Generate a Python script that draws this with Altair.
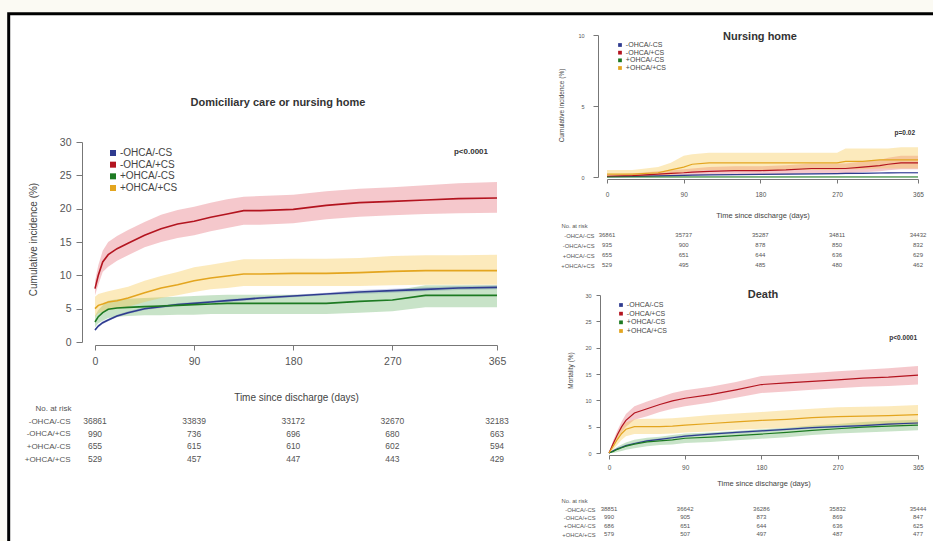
import altair as alt
import pandas as pd

FONT = "Liberation Sans"
SERIES = ["-OHCA/-CS", "-OHCA/+CS", "+OHCA/-CS", "+OHCA/+CS"]
LINE_COLORS = ["#2f3b8f", "#b3141f", "#1d7a22", "#e3a51f"]
BAND_COLORS = ["#6f80c8", "#e2606c", "#62b060", "#f6c23e"]
DAY_TICKS = [0, 90, 180, 270, 365]

# ---- Domiciliary care or nursing home (cumulative incidence, %) ----
DOM_DAYS = [0, 3, 7, 12, 20, 30, 45, 60, 75, 90, 105, 120, 135, 150, 180, 210, 240, 270, 300, 330, 365]
DOM_EST_NN = [1.8, 2.4, 2.9, 3.3, 3.9, 4.4, 5.0, 5.3, 5.6, 5.8, 6.0, 6.2, 6.4, 6.6, 6.9, 7.2, 7.5, 7.7, 7.9, 8.1, 8.2]
DOM_LO_NN = [1.6, 2.2, 2.7, 3.1, 3.7, 4.2, 4.8, 5.1, 5.4, 5.6, 5.8, 6.0, 6.2, 6.4, 6.7, 7.0, 7.2, 7.4, 7.6, 7.8, 7.9]
DOM_HI_NN = [2.0, 2.6, 3.1, 3.5, 4.1, 4.6, 5.2, 5.5, 5.8, 6.0, 6.2, 6.4, 6.6, 6.8, 7.1, 7.4, 7.8, 8.0, 8.2, 8.4, 8.5]
DOM_EST_NP = [8.0, 10.0, 12.0, 13.1, 14.0, 14.8, 16.0, 17.0, 17.7, 18.1, 18.7, 19.2, 19.7, 19.7, 19.9, 20.5, 20.9, 21.1, 21.3, 21.5, 21.6]
DOM_LO_NP = [7.0, 8.6, 10.5, 11.3, 12.2, 13.0, 14.2, 15.0, 15.6, 16.0, 16.6, 17.1, 17.6, 17.6, 17.8, 18.4, 18.8, 19.0, 19.2, 19.3, 19.4]
DOM_HI_NP = [9.1, 11.5, 13.7, 15.0, 15.9, 16.8, 18.0, 19.1, 19.8, 20.3, 20.9, 21.4, 21.8, 21.9, 22.1, 22.6, 23.0, 23.2, 23.5, 23.8, 24.0]
DOM_EST_PN = [3.0, 3.8, 4.4, 4.9, 5.1, 5.2, 5.3, 5.4, 5.5, 5.6, 5.7, 5.8, 5.8, 5.8, 5.8, 5.8, 6.1, 6.3, 7.0, 7.0, 7.0]
DOM_LO_PN = [2.2, 2.8, 3.2, 3.6, 3.8, 3.9, 4.0, 4.0, 4.1, 4.1, 4.2, 4.2, 4.2, 4.2, 4.2, 4.2, 4.4, 4.6, 5.2, 5.2, 5.2]
DOM_HI_PN = [3.9, 4.8, 5.5, 6.2, 6.4, 6.5, 6.6, 6.7, 6.8, 6.9, 7.0, 7.1, 7.1, 7.1, 7.1, 7.1, 7.5, 7.7, 8.5, 8.5, 8.5]
DOM_EST_PP = [5.0, 5.5, 5.7, 6.0, 6.2, 6.6, 7.4, 8.1, 8.6, 9.2, 9.6, 9.9, 10.2, 10.2, 10.3, 10.3, 10.4, 10.6, 10.7, 10.7, 10.7]
DOM_LO_PP = [3.8, 4.3, 4.5, 4.8, 5.0, 5.3, 6.0, 6.6, 7.0, 7.5, 7.9, 8.1, 8.4, 8.4, 8.4, 8.4, 8.4, 8.5, 8.6, 8.6, 8.6]
DOM_HI_PP = [6.8, 7.2, 7.4, 7.6, 7.9, 8.3, 9.2, 9.9, 10.5, 11.2, 11.6, 12.0, 12.4, 12.4, 12.5, 12.5, 12.6, 12.9, 13.0, 13.0, 13.1]
DOM_RISK_NN = [36861, 33839, 33172, 32670, 32183]
DOM_RISK_NP = [990, 736, 696, 680, 663]
DOM_RISK_PN = [655, 615, 610, 602, 594]
DOM_RISK_PP = [529, 457, 447, 443, 429]

# ---- Nursing home (cumulative incidence, %) ----
NH_DAYS = [0, 30, 60, 75, 90, 100, 120, 150, 180, 210, 240, 270, 280, 300, 320, 330, 345, 365]
NH_EST_NN = [0.02, 0.05, 0.08, 0.1, 0.12, 0.13, 0.15, 0.17, 0.19, 0.2, 0.22, 0.24, 0.25, 0.26, 0.28, 0.29, 0.3, 0.3]
NH_LO_NN = [0.0, 0.02, 0.05, 0.07, 0.09, 0.1, 0.12, 0.14, 0.15, 0.16, 0.18, 0.2, 0.2, 0.21, 0.23, 0.24, 0.25, 0.25]
NH_HI_NN = [0.05, 0.08, 0.11, 0.13, 0.15, 0.16, 0.18, 0.2, 0.23, 0.24, 0.26, 0.28, 0.3, 0.31, 0.33, 0.34, 0.35, 0.35]
NH_EST_NP = [0.05, 0.1, 0.2, 0.25, 0.3, 0.35, 0.4, 0.45, 0.45, 0.5, 0.6, 0.6, 0.6, 0.7, 0.8, 0.9, 1.0, 1.0]
NH_LO_NP = [0.0, 0.0, 0.05, 0.08, 0.1, 0.12, 0.15, 0.18, 0.18, 0.2, 0.27, 0.27, 0.27, 0.33, 0.4, 0.47, 0.55, 0.55]
NH_HI_NP = [0.15, 0.25, 0.4, 0.48, 0.55, 0.6, 0.7, 0.75, 0.75, 0.82, 0.95, 0.95, 0.95, 1.1, 1.2, 1.35, 1.5, 1.5]
NH_EST_PN = [0.0, 0.0, 0.0, 0.0, 0.0, 0.0, 0.0, 0.0, 0.0, 0.0, 0.0, 0.0, 0.0, 0.0, 0.0, 0.0, 0.0, 0.0]
NH_LO_PN = [0.0, 0.0, 0.0, 0.0, 0.0, 0.0, 0.0, 0.0, 0.0, 0.0, 0.0, 0.0, 0.0, 0.0, 0.0, 0.0, 0.0, 0.0]
NH_HI_PN = [0.05, 0.05, 0.05, 0.05, 0.05, 0.05, 0.05, 0.05, 0.05, 0.05, 0.05, 0.05, 0.05, 0.05, 0.05, 0.05, 0.05, 0.05]
NH_EST_PP = [0.2, 0.2, 0.3, 0.5, 0.7, 0.9, 1.0, 1.0, 1.0, 1.0, 1.0, 1.0, 1.1, 1.1, 1.2, 1.2, 1.2, 1.2]
NH_LO_PP = [0.0, 0.0, 0.05, 0.15, 0.3, 0.4, 0.5, 0.5, 0.5, 0.5, 0.5, 0.5, 0.55, 0.55, 0.6, 0.6, 0.6, 0.6]
NH_HI_PP = [0.5, 0.5, 0.7, 1.0, 1.5, 1.6, 1.7, 1.7, 1.7, 1.7, 1.7, 1.7, 2.0, 2.0, 2.0, 2.0, 2.1, 2.1]
NH_RISK_NN = [36861, 35737, 35287, 34811, 34432]
NH_RISK_NP = [935, 900, 878, 850, 832]
NH_RISK_PN = [655, 651, 644, 636, 629]
NH_RISK_PP = [529, 495, 485, 480, 462]

# ---- Death (mortality, %) ----
DTH_DAYS = [0, 5, 10, 15, 20, 30, 45, 60, 75, 90, 120, 150, 180, 210, 240, 270, 300, 330, 365]
DTH_EST_NN = [0.0, 0.4, 0.8, 1.1, 1.4, 1.8, 2.3, 2.6, 2.9, 3.2, 3.6, 3.9, 4.2, 4.5, 4.8, 5.0, 5.2, 5.5, 5.7]
DTH_LO_NN = [0.0, 0.3, 0.6, 0.9, 1.2, 1.6, 2.1, 2.4, 2.7, 3.0, 3.4, 3.7, 4.0, 4.3, 4.6, 4.8, 5.0, 5.3, 5.5]
DTH_HI_NN = [0.0, 0.5, 1.0, 1.3, 1.6, 2.0, 2.5, 2.8, 3.1, 3.4, 3.8, 4.1, 4.4, 4.7, 5.0, 5.2, 5.4, 5.7, 5.9]
DTH_EST_NP = [0.0, 1.8, 3.5, 5.0, 6.2, 7.6, 8.4, 9.2, 9.9, 10.4, 11.1, 12.0, 13.0, 13.3, 13.6, 13.9, 14.2, 14.4, 14.8]
DTH_LO_NP = [0.0, 1.2, 2.7, 4.0, 5.0, 6.3, 7.0, 7.8, 8.4, 8.9, 9.6, 10.5, 11.4, 11.7, 12.0, 12.3, 12.6, 12.7, 13.0]
DTH_HI_NP = [0.0, 2.4, 4.3, 6.0, 7.4, 8.9, 9.8, 10.6, 11.4, 11.9, 12.6, 13.5, 14.6, 14.9, 15.2, 15.5, 15.8, 16.1, 16.5]
DTH_EST_PN = [0.0, 0.3, 0.7, 1.0, 1.3, 1.7, 2.1, 2.3, 2.5, 2.8, 3.0, 3.3, 3.6, 3.9, 4.3, 4.6, 4.9, 5.1, 5.3]
DTH_LO_PN = [0.0, 0.0, 0.2, 0.4, 0.6, 0.9, 1.3, 1.5, 1.6, 1.9, 2.1, 2.4, 2.7, 3.0, 3.4, 3.7, 3.9, 4.1, 4.3]
DTH_HI_PN = [0.0, 0.6, 1.2, 1.6, 2.0, 2.5, 2.9, 3.1, 3.4, 3.7, 3.9, 4.2, 4.5, 4.8, 5.2, 5.5, 5.9, 6.1, 6.3]
DTH_EST_PP = [0.0, 1.3, 2.6, 3.7, 4.5, 5.0, 5.0, 5.0, 5.1, 5.3, 5.6, 5.9, 6.2, 6.4, 6.7, 6.9, 7.0, 7.1, 7.3]
DTH_LO_PP = [0.0, 0.6, 1.6, 2.5, 3.2, 3.6, 3.6, 3.6, 3.7, 3.9, 4.1, 4.4, 4.6, 4.8, 5.0, 5.2, 5.3, 5.3, 5.5]
DTH_HI_PP = [0.0, 2.0, 3.6, 4.9, 5.8, 6.4, 6.5, 6.5, 6.6, 6.8, 7.2, 7.5, 7.8, 8.1, 8.4, 8.7, 8.8, 8.9, 9.1]
DTH_RISK_NN = [38851, 36642, 36286, 35832, 35444]
DTH_RISK_NP = [990, 905, 873, 869, 847]
DTH_RISK_PN = [686, 651, 644, 636, 625]
DTH_RISK_PP = [579, 507, 497, 487, 477]

TEXT = "#444444"
AXIS = "#777777"


def curve_frame(days, est, lo, hi):
    rows = []
    for name, e_s, l_s, h_s in zip(SERIES, est, lo, hi):
        for d, e, l, h in zip(days, e_s, l_s, h_s):
            rows.append({"series": name, "day": d, "est": e, "lo": l, "hi": h})
    return pd.DataFrame(rows)


def risk_frame(risk):
    rows = []
    for name, counts in zip(SERIES, risk):
        for d, n in zip(DAY_TICKS, counts):
            rows.append({"series": name, "day": d, "n": n})
    return pd.DataFrame(rows)


def day_scale(x_range):
    return alt.Scale(domain=[0, 365], range=x_range, nice=False, zero=False)


def row_scale(y_range):
    return alt.Scale(type="point", domain=SERIES, range=y_range, padding=0)


def km_layers(frame, x_range, y_range, y_max, x_axis, y_axis, stroke):
    ys = alt.Scale(domain=[0, y_max], range=y_range, nice=False, zero=False)
    bands = alt.Chart(frame).mark_area(opacity=0.35).encode(
        x=alt.X("day:Q", scale=day_scale(x_range), axis=x_axis),
        y=alt.Y("lo:Q", scale=ys, axis=y_axis, stack=None),
        y2="hi:Q",
        color=alt.Color("series:N", scale=alt.Scale(domain=SERIES, range=BAND_COLORS), legend=None),
    )
    lines = alt.Chart(frame).mark_line(strokeWidth=stroke).encode(
        x=alt.X("day:Q", scale=day_scale(x_range), axis=None),
        y=alt.Y("est:Q", scale=ys, axis=None),
        color=alt.Color("series:N", scale=alt.Scale(domain=SERIES, range=LINE_COLORS), legend=None),
    )
    return [bands, lines]


def key_layers(x, y_range, size, sym):
    """Series key: coloured squares with their labels, one row per series."""
    base = alt.Chart(pd.DataFrame({"series": SERIES})).encode(
        y=alt.Y("series:N", scale=row_scale(y_range), axis=None)
    )
    squares = base.mark_square(size=sym, opacity=1).encode(
        x=alt.value(x),
        color=alt.Color("series:N", scale=alt.Scale(domain=SERIES, range=LINE_COLORS), legend=None),
    )
    names = base.mark_text(align="left", baseline="middle", fontSize=size, color=TEXT, font=FONT).encode(
        x=alt.value(x + sym ** 0.5 / 2 + 4), text="series:N"
    )
    return [squares, names]


def risk_layer(risk, x_range, y_range, label_x, title_x, title_y, size, label_size):
    return alt.Chart(risk_frame(risk)).mark_text(fontSize=size, color="#555555", font=FONT).encode(
        x=alt.X("day:Q", scale=day_scale(x_range), axis=None),
        y=alt.Y(
            "series:N",
            scale=row_scale(y_range),
            axis=alt.Axis(
                orient="left", offset=-label_x, domain=False, ticks=False, grid=False, zindex=1,
                labelPadding=0, labelFontSize=label_size, labelColor="#555555",
                title="No. at risk", titleAngle=0, titleX=title_x - label_x, titleY=title_y,
                titleAlign="left", titleBaseline="middle", titleFontSize=label_size,
                titleFontWeight="normal", titleColor="#555555",
            ),
        ),
        text=alt.Text("n:Q", format="d"),
    )


def label(text, x, y, size, weight="bold", align="center"):
    return alt.Chart(pd.DataFrame({"t": [text]})).mark_text(
        fontSize=size, fontWeight=weight, align=align, baseline="middle", color="#333333", font=FONT
    ).encode(x=alt.value(x), y=alt.value(y), text="t:N")


def x_axis(offset, title_y, label_size, title_size, pad, tick):
    return alt.Axis(
        orient="bottom", offset=offset, values=DAY_TICKS, grid=False, format="d", zindex=1,
        labelFontSize=label_size, labelColor="#555555", labelPadding=pad, labelFlush=False,
        tickSize=tick, tickColor=AXIS, domainColor=AXIS,
        title="Time since discharge (days)", titleY=title_y, titleBaseline="middle",
        titleFontSize=title_size, titleFontWeight="normal", titleColor=TEXT,
    )


def y_axis(offset, ticks, title, title_x, title_y, label_size, title_size, pad, tick):
    return alt.Axis(
        orient="left", offset=offset, values=ticks, grid=False, format="d", zindex=1,
        labelFontSize=label_size, labelColor="#555555", labelPadding=pad,
        tickSize=tick, tickColor=AXIS, domainColor=AXIS,
        title=title, titleX=title_x, titleY=title_y, titleAngle=270,
        titleBaseline="middle", titleAlign="center",
        titleFontSize=title_size, titleFontWeight="normal", titleColor=TEXT,
    )


dom = curve_frame(
    DOM_DAYS,
    [DOM_EST_NN, DOM_EST_NP, DOM_EST_PN, DOM_EST_PP],
    [DOM_LO_NN, DOM_LO_NP, DOM_LO_PN, DOM_LO_PP],
    [DOM_HI_NN, DOM_HI_NP, DOM_HI_PN, DOM_HI_PP],
)
nh = curve_frame(
    NH_DAYS,
    [NH_EST_NN, NH_EST_NP, NH_EST_PN, NH_EST_PP],
    [NH_LO_NN, NH_LO_NP, NH_LO_PN, NH_LO_PP],
    [NH_HI_NN, NH_HI_NP, NH_HI_PN, NH_HI_PP],
)
dth = curve_frame(
    DTH_DAYS,
    [DTH_EST_NN, DTH_EST_NP, DTH_EST_PN, DTH_EST_PP],
    [DTH_LO_NN, DTH_LO_NP, DTH_LO_PN, DTH_LO_PP],
    [DTH_HI_NN, DTH_HI_NP, DTH_HI_PN, DTH_HI_PP],
)

# white sheet with a heavy black edge along its top and left
frame = alt.Chart(pd.DataFrame({"a": [0]})).mark_rect(
    fill="white", stroke="black", strokeWidth=3
).encode(x=alt.value(8.7), x2=alt.value(990), y=alt.value(13.8), y2=alt.value(600))

DOM_X, DOM_Y = [95, 497], [342, 142]
NH_X, NH_Y = [607, 918], [177, 35]
DTH_X, DTH_Y = [609, 918], [453, 295]

layers = [frame]
layers += km_layers(
    dom, DOM_X, DOM_Y, 30,
    x_axis(-196, 52, 10.5, 10, 6, 5),
    y_axis(-82, [0, 5, 10, 15, 20, 25, 30], "Cumulative incidence (%)", -49, 239, 10.5, 10, 5, 6),
    1.6,
)
layers += key_layers(113, [153, 188], 10, 36)
layers.append(risk_layer([DOM_RISK_NN, DOM_RISK_NP, DOM_RISK_PN, DOM_RISK_PP], DOM_X, [421, 459], 70, 35, 408, 8.5, 8))
layers += km_layers(
    nh, NH_X, NH_Y, 10,
    x_axis(-362, 36, 6.5, 7.5, 8, 4),
    y_axis(-598, [0, 5, 10], "Cumulative incidence (%)", -37, 105, 5.5, 6.5, 9, 5),
    1.2,
)
layers += key_layers(620, [45, 68], 7, 14)
layers.append(risk_layer([NH_RISK_NN, NH_RISK_NP, NH_RISK_PN, NH_RISK_PP], NH_X, [235, 265], 594, 561, 225, 6, 5.8))
layers += km_layers(
    dth, DTH_X, DTH_Y, 30,
    x_axis(-86, 28, 6.5, 7.5, 5, 4),
    y_axis(-600, [0, 5, 10, 15, 20, 25, 30], "Mortality (%)", -30, 370, 5.5, 6.5, 5, 4),
    1.2,
)
layers += key_layers(621, [305, 331], 7, 14)
layers.append(risk_layer([DTH_RISK_NN, DTH_RISK_NP, DTH_RISK_PN, DTH_RISK_PP], DTH_X, [509, 534], 595, 561, 500, 6, 5.8))
layers += [
    label("Domiciliary care or nursing home", 278, 103, 11),
    label("Nursing home", 760, 37, 11),
    label("Death", 763, 295, 11),
    label("p<0.0001", 488, 152, 8, align="right"),
    label("p=0.02", 915, 133, 6.5, align="right"),
    label("p<0.0001", 917, 338, 6.5, align="right"),
]

chart = (
    alt.layer(*layers)
    .resolve_scale(x="independent", y="independent", color="independent")
    .properties(width=933, height=541, autosize=alt.AutoSizeParams(type="none"), padding=0,
                background="#fbfaf3")
    .configure(font=FONT)
    .configure_view(stroke=None)
)

chart.save("out.html", embed_options={"renderer": "svg", "actions": False})
